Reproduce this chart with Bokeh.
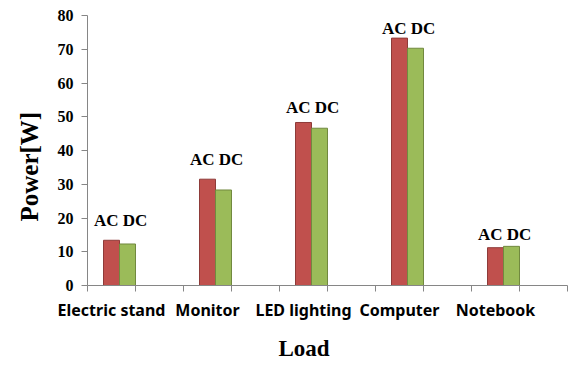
from bokeh.plotting import figure
from bokeh.models import Range1d, FixedTicker, Title, ColumnDataSource
from bokeh.core.properties import value
from bokeh.embed import file_html
from bokeh.resources import INLINE

categories = ["Electric stand", "Monitor", "LED lighting", "Computer", "Notebook"]
ac_power = [13.4, 31.5, 48.3, 73.3, 11.2]
dc_power = [12.3, 28.3, 46.6, 70.3, 11.6]
pair_label = "AC DC"
label_levels = [19.2, 37.2, 52.8, 76.2, 15.1]
y_ticks = [0, 10, 20, 30, 40, 50, 60, 70, 80]

RED = "#C0504D"
GREEN = "#9BBB59"
AXIS = "#868686"

slots = [2 * i for i in range(len(categories))]
src = ColumnDataSource(dict(
    ac_x=[s + 0.5 for s in slots],
    dc_x=[s + 5.0 / 6.0 for s in slots],
    lab_x=[s + 0.69 for s in slots],
    ac=ac_power, dc=dc_power,
    lab_y=label_levels,
    lab=[pair_label] * len(categories),
))

p = figure(width=569, height=370, output_backend="svg", toolbar_location=None,
           x_range=Range1d(0, 10), y_range=Range1d(0, 80),
           min_border_left=87, min_border_right=2, min_border_top=15, min_border_bottom=84)
p.outline_line_color = None
p.xgrid.visible = False
p.ygrid.visible = False
p.background_fill_color = "white"
p.border_fill_color = "white"

p.vbar(x="ac_x", top="ac", width=1.0 / 3.0, bottom=0, source=src,
       fill_color=RED, line_color="#8E3B39", line_width=1)
p.vbar(x="dc_x", top="dc", width=1.0 / 3.0, bottom=0, source=src,
       fill_color=GREEN, line_color="#71893F", line_width=1)

p.text(x="lab_x", y="lab_y", text="lab", source=src,
       text_font=value("Liberation Serif"), text_font_style="bold",
       text_font_size="17px", text_align="center", text_baseline="alphabetic",
       text_color="black")

# x axis
xa = p.xaxis[0]
xa.ticker = FixedTicker(ticks=[s + 0.5 for s in slots], minor_ticks=list(range(11)))
xa.major_label_overrides = {s + 0.5: c for s, c in zip(slots, categories)}
xa.major_tick_line_color = None
xa.minor_tick_line_color = AXIS
xa.minor_tick_in = 0
xa.minor_tick_out = 6
xa.axis_line_color = AXIS
xa.major_label_standoff = 7
xa.major_label_text_font = "Noto Sans"
xa.major_label_text_font_style = "bold"
xa.major_label_text_font_size = "16px"
xa.major_label_text_color = "black"

# y axis
ya = p.yaxis[0]
ya.ticker = FixedTicker(ticks=y_ticks)
ya.minor_tick_line_color = None
ya.major_tick_in = 0
ya.major_tick_out = 6
ya.major_tick_line_color = AXIS
ya.axis_line_color = AXIS
ya.major_label_standoff = 8
ya.major_label_text_font = "Liberation Serif"
ya.major_label_text_font_style = "bold"
ya.major_label_text_font_size = "16px"
ya.major_label_text_color = "black"

p.add_layout(Title(text="Power[W]", align="left", offset=64, standoff=24,
                   text_font="Liberation Serif", text_font_style="bold",
                   text_font_size="25px", text_color="black"), "left")
p.add_layout(Title(text="Load", align="left", offset=191, standoff=20,
                   text_line_height=0.5,
                   text_font="Liberation Serif", text_font_style="bold",
                   text_font_size="23px", text_color="black"), "below")

open("out.html", "w").write(file_html(p, INLINE))
